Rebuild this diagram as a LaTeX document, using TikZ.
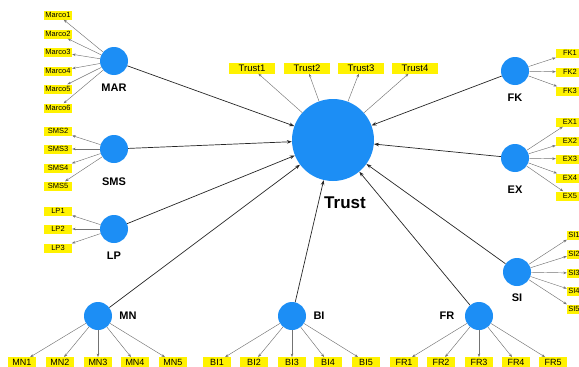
\documentclass[tikz,border=0pt]{standalone}
\usepackage{fontspec}
\setmainfont{Liberation Sans}
\usetikzlibrary{arrows.meta}
\definecolor{plsblue}{RGB}{28,142,245}

\begin{document}
\begin{tikzpicture}[
          x=1pt, y=-1pt,
          lv/.style={circle, fill=plsblue, inner sep=0pt, minimum size=28pt},
          lvlab/.style={font=\bfseries\fontsize{11}{12}\selectfont},
          ind/.style={fill=yellow, inner sep=0pt, minimum width=28pt, minimum height=9pt,
                      font=\fontsize{7.5}{8}\selectfont},
          botind/.style={ind, minimum height=9.5pt, font=\fontsize{9}{10}\selectfont},
          trustind/.style={ind, minimum width=46pt, minimum height=11pt,
                      font=\fontsize{9.5}{10}\selectfont},
          siind/.style={ind, minimum width=14pt},
          meas/.style={-{Stealth[length=3.5pt,width=2.6pt]}, line width=0.45pt, black!55},
          path/.style={-{Stealth[length=5pt,width=3.6pt]}, line width=0.7pt, black!85}
        ]
        \useasboundingbox (0,0) rectangle (579,367);
        % latent variables
        \node[lv, minimum size=82pt] (trust) at (333,140) {};
        \node[lv] (mar) at (114,61) {};
        \node[lv] (sms) at (114,149) {};
        \node[lv] (lp)  at (114,229) {};
        \node[lv] (mn)  at (98,316) {};
        \node[lv] (bi)  at (292,316) {};
        \node[lv] (fr)  at (479,316) {};
        \node[lv] (fk)  at (515,71) {};
        \node[lv] (ex)  at (515,158) {};
        \node[lv] (si)  at (517,272) {};

        \node[lvlab, font=\bfseries\fontsize{17}{18}\selectfont] (trustlab) at (345,203) {Trust};
        \node[lvlab] (marlab) at (114,88) {MAR};
        \node[lvlab] (smslab) at (114,182) {SMS};
        \node[lvlab] (lplab)  at (114,256) {LP};
        \node[lvlab] (mnlab)  at (128,316) {MN};
        \node[lvlab] (bilab)  at (319,316) {BI};
        \node[lvlab] (frlab)  at (447,316) {FR};
        \node[lvlab] (fklab)  at (515,98) {FK};
        \node[lvlab] (exlab)  at (515,190) {EX};
        \node[lvlab] (silab)  at (517,298) {SI};

        % indicators, left column
        \node[ind] (mar1) at (58,15) {Marco1};
        \node[ind] (mar2) at (58,34) {Marco2};
        \node[ind] (mar3) at (58,52) {Marco3};
        \node[ind] (mar4) at (58,71) {Marco4};
        \node[ind] (mar5) at (58,89) {Marco5};
        \node[ind] (mar6) at (58,108) {Marco6};
        \node[ind] (sms2) at (58,131) {SMS2};
        \node[ind] (sms3) at (58,149) {SMS3};
        \node[ind] (sms4) at (58,168) {SMS4};
        \node[ind] (sms5) at (58,186) {SMS5};
        \node[ind] (lp1) at (58,211) {LP1};
        \node[ind] (lp2) at (58,229) {LP2};
        \node[ind] (lp3) at (58,248) {LP3};

        % indicators, top row
        \node[trustind] (trust1) at (252,68) {Trust1};
        \node[trustind] (trust2) at (307,68) {Trust2};
        \node[trustind] (trust3) at (361,68) {Trust3};
        \node[trustind] (trust4) at (415,68) {Trust4};

        % indicators, right column
        \node[ind] (fk1) at (570,53) {FK1};
        \node[ind] (fk2) at (570,72) {FK2};
        \node[ind] (fk3) at (570,91) {FK3};
        \node[ind] (ex1) at (570,122) {EX1};
        \node[ind] (ex2) at (570,141) {EX2};
        \node[ind] (ex3) at (570,159) {EX3};
        \node[ind] (ex4) at (570,178) {EX4};
        \node[ind] (ex5) at (570,196) {EX5};
        \node[siind] (si1) at (574,235) {SI1};
        \node[siind] (si2) at (574,254) {SI2};
        \node[siind] (si3) at (574,273) {SI3};
        \node[siind] (si4) at (574,291) {SI4};
        \node[siind] (si5) at (574,309) {SI5};

        % indicators, bottom row
        \node[botind] (mn1) at (22,362) {MN1};
        \node[botind] (mn2) at (60,362) {MN2};
        \node[botind] (mn3) at (98,362) {MN3};
        \node[botind] (mn4) at (135,362) {MN4};
        \node[botind] (mn5) at (173,362) {MN5};
        \node[botind] (bi1) at (217,362) {BI1};
        \node[botind] (bi2) at (254,362) {BI2};
        \node[botind] (bi3) at (292,362) {BI3};
        \node[botind] (bi4) at (328,362) {BI4};
        \node[botind] (bi5) at (366,362) {BI5};
        \node[botind] (fr1) at (404,362) {FR1};
        \node[botind] (fr2) at (441,362) {FR2};
        \node[botind] (fr3) at (479,362) {FR3};
        \node[botind] (fr4) at (516,362) {FR4};
        \node[botind] (fr5) at (553,362) {FR5};

        % measurement arrows
        \foreach \i in {1,...,6} \draw[meas] (mar) -- (mar\i);
        \foreach \i in {2,...,5} \draw[meas] (sms) -- (sms\i);
        \foreach \i in {1,2,3} \draw[meas] (lp) -- (lp\i);
        \foreach \i in {1,...,4} \draw[meas] (trust) -- (trust\i);
        \foreach \i in {1,2,3} \draw[meas] (fk) -- (fk\i);
        \foreach \i in {1,...,5} {
          \draw[meas] (ex) -- (ex\i);
          \draw[meas] (si) -- (si\i);
          \draw[meas] (mn) -- (mn\i);
          \draw[meas] (bi) -- (bi\i);
          \draw[meas] (fr) -- (fr\i);
        }

        % structural paths
        \foreach \lv in {mar,sms,lp,mn,bi,fr,si,ex,fk}
          \draw[path] (\lv) -- (trust);
      \end{tikzpicture}
\end{document}
